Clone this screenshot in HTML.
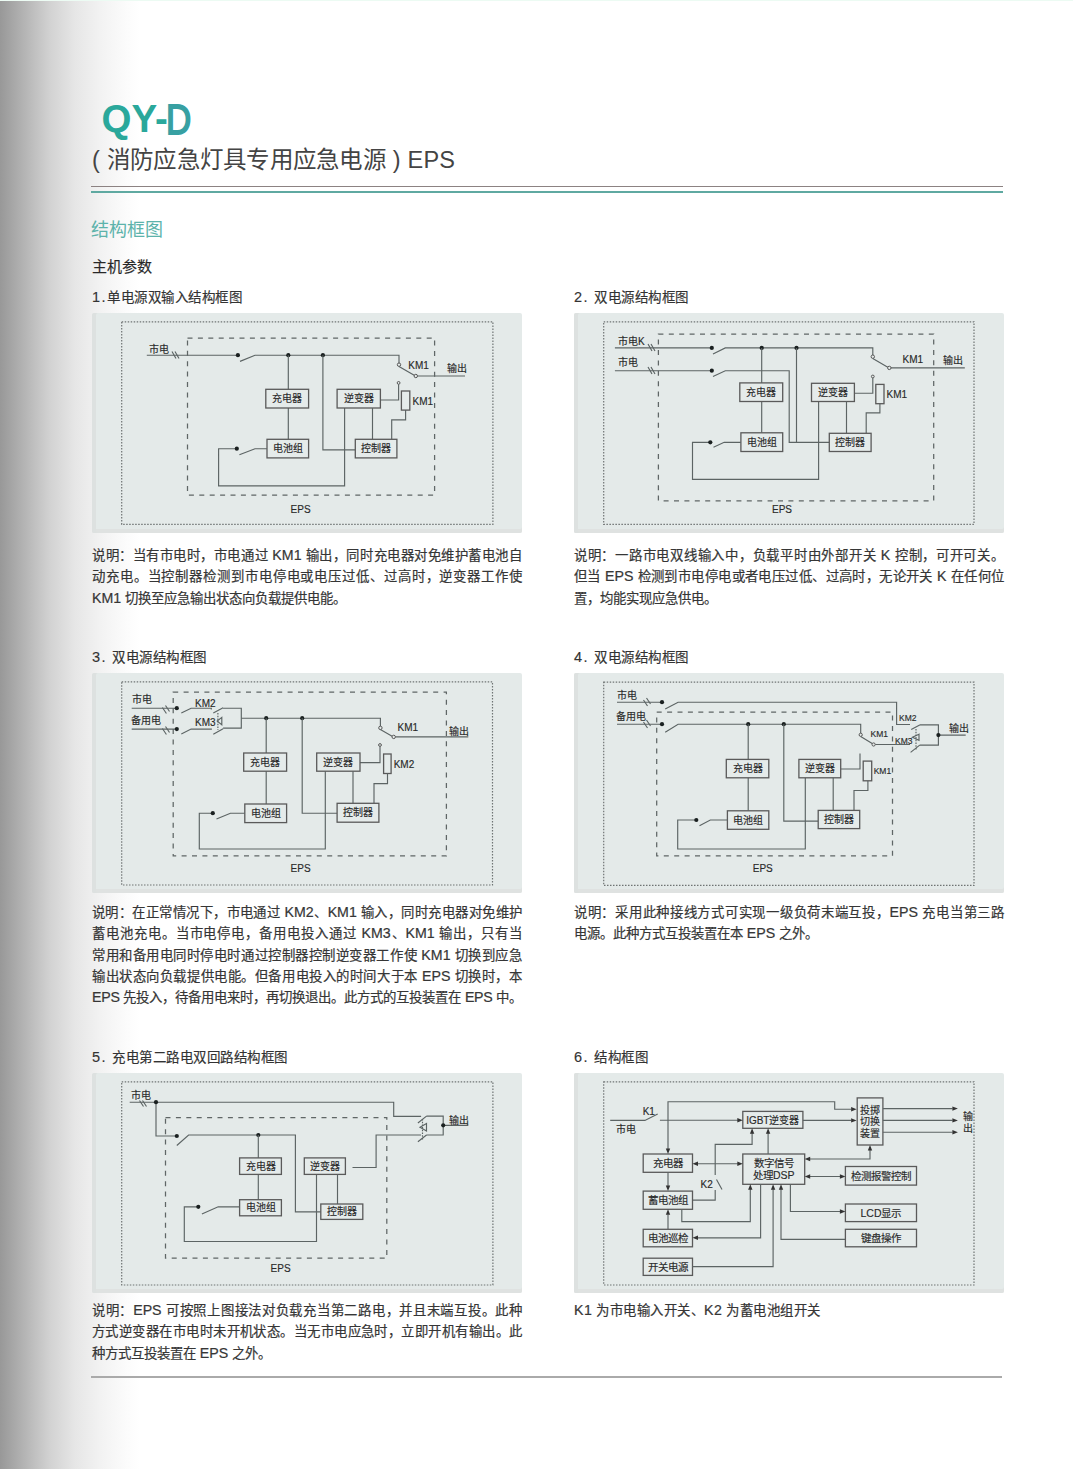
<!DOCTYPE html>
<html lang="zh-CN"><head><meta charset="utf-8">
<style>
*{margin:0;padding:0;box-sizing:border-box}
html,body{width:1073px;height:1469px;overflow:hidden;background:#fff}
body{position:relative;font-family:"Liberation Sans",sans-serif;color:#333}
#grad{position:absolute;left:0;top:0;width:140px;height:1469px;
 background:linear-gradient(to right,#989898 0px,#b5b5b5 25px,#d2d2d2 50px,#e6e6e6 75px,#f2f2f2 100px,#fbfbfb 125px,#fff 140px)}
.abs{position:absolute;white-space:nowrap}
#qy{left:101.5px;top:97px;font-size:38.5px;font-weight:bold;color:#2aa89b;letter-spacing:0px}
#qd{left:166px;top:95.5px;font-size:38px;font-weight:normal;color:#37a0a2;-webkit-text-stroke:1.6px #37a0a2;transform:scale(0.92,1.12);transform-origin:0 0}
#sub{left:92px;top:141px;font-size:23.5px;color:#444;letter-spacing:0.25px}
#l1{left:91px;top:185.5px;width:912px;height:1.5px;background:#8c8282}
#l2{left:91px;top:191px;width:912px;height:2px;background:#5fa9a1}
#h1{left:91px;top:215px;font-size:18px;color:#5db3ab}
#h2{left:92px;top:255px;font-size:15px;color:#282828;-webkit-text-stroke:0.15px #282828}
.lab{font-size:13.5px;line-height:18px;color:#333;letter-spacing:0.5px;-webkit-text-stroke:0.15px #333}
.num{font-size:14.5px;line-height:18px;letter-spacing:1.5px}
.panel{position:absolute;width:430px;height:220px;background:#e4eae9;border-radius:2px;box-shadow:inset 4px 0 0 #dde1e0,inset 0 -4px 0 #dfe2e1}
.para{position:absolute;width:430px;font-size:13.4px;line-height:21.3px;color:#363636;-webkit-text-stroke:0.2px #363636}
.ln{text-align:justify;text-align-last:justify;white-space:normal;height:21.3px;overflow:visible}
.ln.last{text-align-last:left}
.ln.full{text-align-last:justify;letter-spacing:-0.25px}
.la{font-size:14.2px}
#bl{left:91px;top:1376px;width:911px;height:2px;background:#aaaaaa}
svg{position:absolute;left:0;top:0}
</style></head><body>
<div id="grad"></div>
<div class="abs" style="left:0;top:0;width:1073px;height:1px;background:#ecfbf3"></div>
<div class="abs" id="qy">QY-</div><div class="abs" id="qd">D</div>
<div class="abs" id="sub">( 消防应急灯具专用应急电源 ) EPS</div>
<div class="abs" id="l1"></div>
<div class="abs" id="l2"></div>
<div class="abs" id="h1">结构框图</div>
<div class="abs" id="h2">主机参数</div>


<div class="abs lab num" style="left:92px;top:288px">1.</div><div class="abs lab" style="left:107px;top:289px">单电源双输入结构框图</div>
<div class="abs lab num" style="left:574px;top:288px">2.</div><div class="abs lab" style="left:594px;top:289px">双电源结构框图</div>
<div class="abs lab num" style="left:92px;top:648px">3.</div><div class="abs lab" style="left:112px;top:649px">双电源结构框图</div>
<div class="abs lab num" style="left:574px;top:648px">4.</div><div class="abs lab" style="left:594px;top:649px">双电源结构框图</div>
<div class="abs lab num" style="left:92px;top:1048px">5.</div><div class="abs lab" style="left:112px;top:1049px">充电第二路电双回路结构框图</div>
<div class="abs lab num" style="left:574px;top:1048px">6.</div><div class="abs lab" style="left:594px;top:1049px">结构框图</div>
<div class="panel" style="left:92px;top:313px"></div>
<div class="panel" style="left:574px;top:313px"></div>
<div class="panel" style="left:92px;top:673px"></div>
<div class="panel" style="left:574px;top:673px"></div>
<div class="panel" style="left:92px;top:1073px"></div>
<div class="panel" style="left:574px;top:1073px"></div>


<div class="para" style="left:92px;top:545px"><div class="ln">说明：当有市电时，市电通过 <span class="la">KM1</span> 输出，同时充电器对免维护蓄电池自</div><div class="ln">动充电。当控制器检测到市电停电或电压过低、过高时，逆变器工作使</div><div class="ln last"><span class="la">KM1</span> 切换至应急输出状态向负载提供电能。</div></div>
<div class="para" style="left:574px;top:545px"><div class="ln">说明：一路市电双线输入中，负载平时由外部开关 <span class="la">K</span> 控制，可开可关。</div><div class="ln">但当 <span class="la">EPS</span> 检测到市电停电或者电压过低、过高时，无论开关 <span class="la">K</span> 在任何位</div><div class="ln last">置，均能实现应急供电。</div></div>
<div class="para" style="left:92px;top:902px"><div class="ln">说明：在正常情况下，市电通过 <span class="la">KM2</span>、<span class="la">KM1</span> 输入，同时充电器对免维护</div><div class="ln">蓄电池充电。当市电停电，备用电投入通过 <span class="la">KM3</span>、<span class="la">KM1</span> 输出，只有当</div><div class="ln">常用和备用电同时停电时通过控制器控制逆变器工作使 <span class="la">KM1</span> 切换到应急</div><div class="ln">输出状态向负载提供电能。但备用电投入的时间大于本 <span class="la">EPS</span> 切换时，本</div><div class="ln last full"><span class="la">EPS</span> 先投入，待备用电来时，再切换退出。此方式的互投装置在 <span class="la">EPS</span> 中。</div></div>
<div class="para" style="left:574px;top:902px"><div class="ln">说明：采用此种接线方式可实现一级负荷末端互投，<span class="la">EPS</span> 充电当第三路</div><div class="ln last">电源。此种方式互投装置在本 <span class="la">EPS</span> 之外。</div></div>
<div class="para" style="left:92px;top:1300px"><div class="ln">说明：<span class="la">EPS</span> 可按照上图接法对负载充当第二路电，并且末端互投。此种</div><div class="ln">方式逆变器在市电时未开机状态。当无市电应急时，立即开机有输出。此</div><div class="ln last">种方式互投装置在 <span class="la">EPS</span> 之外。</div></div>
<div class="para" style="left:574px;top:1300px;letter-spacing:0.45px"><div class="ln last"><span class="la">K1</span> 为市电输入开关、<span class="la">K2</span> 为蓄电池组开关</div></div>
<svg width="1073" height="1469" viewBox="0 0 1073 1469">
<style>
.w{stroke:#5c6464;stroke-width:1.15;fill:none}
.bx{stroke:#5a5a5a;stroke-width:1.3;fill:#e5ebea}
.dt{fill:#1a2020}
.ou{stroke:#6f7474;stroke-width:1.2;fill:none;stroke-dasharray:1.5 1.5}
.in{stroke:#5f6666;stroke-width:1.25;fill:none;stroke-dasharray:5 5.4}
.t{font-family:"Liberation Sans",sans-serif;font-size:10px;fill:#2a2a2a;stroke:#2a2a2a;stroke-width:0.15}
.tm{text-anchor:middle}
.ar{fill:#333}
.ci{stroke:#4a4a4a;stroke-width:0.9;fill:#e5ebea}
</style>
<!-- D1 -->
<g id="d1">
<rect class="ou" x="121.7" y="321.8" width="371.2" height="202.6"/>
<rect class="in" x="187.5" y="338" width="247.1" height="157"/>
<text class="t" x="149" y="352.5">市电</text>
<path class="w" d="M146.8 355.2H237.9M240 361.4L255 355.2H399V363"/>
<path class="w" d="M172 351.5l4 7M175 351.5l4 7"/>
<circle class="dt" cx="237.9" cy="355.2" r="2.1"/>
<circle class="dt" cx="288.3" cy="355.2" r="2.1"/>
<circle class="dt" cx="322.9" cy="355.2" r="2.1"/>
<path class="w" d="M288.3 355.2V439.3M322.9 355.2V449.8H355.3"/>
<rect class="bx" x="265.8" y="389.3" width="42.8" height="18.7"/>
<text class="t tm" x="287.2" y="402.3">充电器</text>
<rect class="bx" x="267" y="439.3" width="41.6" height="18.6"/>
<text class="t tm" x="287.8" y="452.3">电池组</text>
<path class="w" d="M267 448.7H255L239.4 454.7M236.8 448.7H218.6V485.8H344.6V408"/>
<circle class="dt" cx="236.8" cy="448.7" r="2.1"/>
<circle class="ci" cx="399" cy="364.7" r="1.7"/>
<path class="w" d="M399 366.4L414.2 375.2M417.5 376H465"/>
<circle class="ci" cx="415.8" cy="376" r="1.7"/>
<text class="t" x="408.3" y="368.5">KM1</text>
<text class="t" x="446.8" y="371.5">输出</text>
<circle class="ci" cx="398.6" cy="382.9" r="1.4"/>
<path class="w" d="M398.6 384.3V400H380.4"/>
<rect class="bx" x="337.1" y="389.3" width="43.3" height="18.7"/>
<text class="t tm" x="358.8" y="402.3">逆变器</text>
<rect class="bx" x="401.4" y="391" width="8.4" height="19.1"/>
<text class="t" x="412.5" y="405">KM1</text>
<path class="w" d="M405.6 410.1V419.8H391.7V439.3M372.5 408V439.3"/>
<rect class="bx" x="355.3" y="439.3" width="41.6" height="18.6"/>
<text class="t tm" x="376.1" y="452.3">控制器</text>
<text class="t tm" x="300.6" y="512.6">EPS</text>
</g>
<!-- D2 -->
<g id="d2">
<rect class="ou" x="603.7" y="321.8" width="370.3" height="202.6"/>
<rect class="in" x="658.4" y="334" width="275.3" height="166.8"/>
<text class="t" x="618" y="344.5">市电K</text>
<text class="t" x="618" y="365.5">市电</text>
<path class="w" d="M614.9 347.9H711.8M713 354L725.3 347.9H872.8V355"/>
<path class="w" d="M614.9 370.7H711.8M713 376.5L725.3 370.7H789.2V442.3H829.3"/>
<path class="w" d="M648 344l4 7M651 344l4 7M648 367l4 7M651 367l4 7"/>
<circle class="dt" cx="711.8" cy="347.9" r="2.1"/>
<circle class="dt" cx="711.8" cy="370.7" r="2.1"/>
<circle class="dt" cx="761.7" cy="347.9" r="2.1"/>
<circle class="dt" cx="796.5" cy="347.9" r="2.1"/>
<path class="w" d="M761.7 347.9V432.8M796.5 347.9V442.3"/>
<rect class="bx" x="739.8" y="382.9" width="42.9" height="18.6"/>
<text class="t tm" x="761.2" y="395.9">充电器</text>
<rect class="bx" x="740.9" y="432.8" width="41.8" height="18.7"/>
<text class="t tm" x="761.8" y="445.8">电池组</text>
<path class="w" d="M740.9 442.3H724.2L713.5 447.2M710.3 442.3H692.5V479.3H818.6V401.5"/>
<circle class="dt" cx="710.3" cy="442.3" r="2.1"/>
<circle class="ci" cx="872.8" cy="356.7" r="1.7"/>
<path class="w" d="M872.8 358.4L887.8 367.2M891 367.9H964.8"/>
<circle class="ci" cx="889.3" cy="367.9" r="1.7"/>
<text class="t" x="902.6" y="362.5">KM1</text>
<text class="t" x="943.3" y="363.5">输出</text>
<circle class="ci" cx="872.8" cy="376.5" r="1.4"/>
<path class="w" d="M872.8 377.9V393.2H854.4"/>
<rect class="bx" x="811.5" y="383.3" width="42.9" height="18.2"/>
<text class="t tm" x="833" y="396">逆变器</text>
<rect class="bx" x="875.8" y="384.4" width="8.2" height="19.3"/>
<text class="t" x="886.5" y="398.3">KM1</text>
<path class="w" d="M879.9 403.7V412.9H866.2V433.3M846.5 401.5V433.3"/>
<rect class="bx" x="829.3" y="433.3" width="41.8" height="18.2"/>
<text class="t tm" x="850.2" y="446">控制器</text>
<text class="t tm" x="782" y="512.6">EPS</text>
</g>
<!-- D3 -->
<g id="d3">
<rect class="ou" x="121.7" y="681.8" width="370.8" height="203.2"/>
<rect class="in" x="173.2" y="692.1" width="273.2" height="163.8"/>
<text class="t" x="132.3" y="702.8">市电</text>
<text class="t" x="131.2" y="723.8">备用电</text>
<path class="w" d="M131.7 708.2H176.8M181.3 713L191.1 708.2H211.3V709.5M213.3 713L223.1 707.8M223.1 708.2H241.3V728.1H223.1M213.3 734.3L223.1 728.7M211.3 728.6V729.1H191.1L181.3 733.9M176.8 729.1H131.7"/>
<path class="w" d="M162.4 707.5l4 6M165.5 705.5l4 6M162.4 728.5l4 6M165.5 726.5l4 6"/>
<path class="w" d="M217.9 713V730" style="stroke-dasharray:1.5 1.2"/>
<path class="w" d="M221.8 717.4L217.2 721.1L221.8 724.8Z"/>
<circle class="dt" cx="176.8" cy="708.2" r="2.1"/>
<circle class="dt" cx="176.8" cy="729.1" r="2.1"/>
<text class="t" x="195" y="706.9">KM2</text>
<text class="t" x="195" y="726.1">KM3</text>
<path class="w" d="M241.3 718.2H380.4V726.2"/>
<circle class="dt" cx="266.2" cy="718.2" r="2.1"/>
<circle class="dt" cx="302.2" cy="718.2" r="2.1"/>
<path class="w" d="M266.2 718.2V804M302.2 718.2V813.2H337.1"/>
<rect class="bx" x="243.7" y="753" width="42.9" height="18.2"/>
<text class="t tm" x="265.2" y="765.8">充电器</text>
<rect class="bx" x="244.8" y="804" width="41.8" height="18.6"/>
<text class="t tm" x="265.7" y="817">电池组</text>
<path class="w" d="M244.8 813.2H230.4L216.5 819M212.8 813.2H199.3V849H325.3V771.2"/>
<circle class="dt" cx="212.8" cy="813.2" r="2.1"/>
<circle class="ci" cx="380.4" cy="727.9" r="1.7"/>
<path class="w" d="M380.4 729.6L392.1 736.2M395.4 736.9H468.3"/>
<circle class="ci" cx="393.7" cy="736.9" r="1.7"/>
<text class="t" x="397.5" y="730.7">KM1</text>
<text class="t" x="449.4" y="735">输出</text>
<circle class="ci" cx="380" cy="745" r="1.4"/>
<path class="w" d="M380 746.4V762.6H360"/>
<rect class="bx" x="316.7" y="753" width="43.3" height="18.2"/>
<text class="t tm" x="338.3" y="765.8">逆变器</text>
<rect class="bx" x="383.6" y="754" width="7.5" height="19.5"/>
<text class="t" x="393.7" y="767.5">KM2</text>
<path class="w" d="M387.5 773.5V783.6H374V803.3M353 771.2V803.3"/>
<rect class="bx" x="337.1" y="803.3" width="41.8" height="18.9"/>
<text class="t tm" x="358" y="816.3">控制器</text>
<text class="t tm" x="300.6" y="872.1">EPS</text>
</g>
<!-- D4 -->
<g id="d4">
<rect class="ou" x="603.7" y="682.2" width="370.3" height="203.2"/>
<rect class="in" x="656.7" y="712.2" width="235.8" height="143.7"/>
<text class="t" x="617" y="698.5">市电</text>
<text class="t" x="616.4" y="720">备用电</text>
<path class="w" d="M617 702.2H662M665.2 709L678.1 702.2H896.6V724.5H910"/>
<path class="w" d="M617 724.2H662M665.2 732.2L678.1 724.2H860.7V733"/>
<path class="w" d="M643.5 700l4 6M646.5 698l4 6M643.5 722l4 6M646.5 720l4 6"/>
<circle class="dt" cx="662" cy="702.2" r="2.1"/>
<circle class="dt" cx="662" cy="724.2" r="2.1"/>
<circle class="dt" cx="748.2" cy="724.2" r="2.1"/>
<circle class="dt" cx="783.8" cy="724.2" r="2.1"/>
<path class="w" d="M748.2 724.2V810.8M783.8 724.2V821.1H818.2"/>
<rect class="bx" x="726.3" y="759.4" width="42.5" height="18.4"/>
<text class="t tm" x="747.5" y="772.3">充电器</text>
<rect class="bx" x="727.4" y="810.8" width="41.4" height="18.5"/>
<text class="t tm" x="748.1" y="823.7">电池组</text>
<path class="w" d="M727.4 820H710.3L699.5 825.8M696.3 820H677.7V849H805.3V777.8"/>
<circle class="dt" cx="696.3" cy="820" r="2.1"/>
<circle class="ci" cx="860.7" cy="734.8" r="1.6"/>
<path class="w" d="M860.7 736.4L872.2 743.6M875.3 744.5H910"/>
<circle class="ci" cx="873.6" cy="744.5" r="1.6"/>
<text class="t" style="font-size:8.5px" x="870.6" y="736.8">KM1</text>
<text class="t" style="font-size:8.5px" x="899" y="720.7">KM2</text>
<text class="t" style="font-size:8.5px" x="895" y="743.5">KM3</text>
<path class="w" d="M911.2 729.4L919.7 725.1M919.7 724.9H938.4V745.1H919.7M910.6 752.4L919.7 745.1M938.4 735.1H965.7"/>
<path class="w" d="M916 729V750" style="stroke-dasharray:1.5 1.2"/>
<path class="w" d="M919 734.2L912.4 737.3L919 740.3Z"/>
<circle class="dt" cx="938.4" cy="735.1" r="2.1"/>
<text class="t" x="949.3" y="731.8">输出</text>
<path class="w" d="M860 753.6V769H840.7"/>
<rect class="bx" x="798.9" y="759.4" width="41.8" height="18.4"/>
<text class="t tm" x="819.8" y="772.3">逆变器</text>
<rect class="bx" x="863.2" y="761.1" width="8.5" height="19.7"/>
<text class="t" style="font-size:8.5px" x="873.7" y="774">KM1</text>
<path class="w" d="M867.9 780.8V790.5H854V810.4M833.2 777.8V810.4"/>
<rect class="bx" x="818.2" y="810.4" width="41.5" height="18.2"/>
<text class="t tm" x="839" y="823.2">控制器</text>
<text class="t tm" x="762.8" y="872">EPS</text>
</g>
<!-- D5 -->
<g id="d5">
<rect class="ou" x="121.7" y="1081.8" width="371.2" height="203.2"/>
<rect class="in" x="165.5" y="1117.6" width="221.3" height="140.6"/>
<text class="t" x="131.4" y="1098.5">市电</text>
<path class="w" d="M129.7 1102.2H393.7V1116.3H421.1M156 1102.2V1136H176.8M176.8 1145.5L188.6 1135H295.4V1211.9H320.8"/>
<path class="w" d="M139.5 1100.5l4 6M142.5 1100.5l4 6"/>
<circle class="dt" cx="156" cy="1102.2" r="2.1"/>
<circle class="dt" cx="176.8" cy="1136" r="2.1"/>
<circle class="dt" cx="258.3" cy="1135" r="2.1"/>
<path class="w" d="M258.3 1135V1199.7"/>
<rect class="bx" x="239.6" y="1157.9" width="41.8" height="16.5"/>
<text class="t tm" x="260.5" y="1169.8">充电器</text>
<rect class="bx" x="239.6" y="1199.7" width="41.8" height="16.1"/>
<text class="t tm" x="260.5" y="1211.4">电池组</text>
<path class="w" d="M239.6 1206.8H218.2L201.9 1214M198.3 1206.8H184.3V1241.5H316.5V1174.4"/>
<circle class="dt" cx="198.3" cy="1206.8" r="2.1"/>
<rect class="bx" x="304.3" y="1157.9" width="41.1" height="16.5"/>
<text class="t tm" x="324.8" y="1169.8">逆变器</text>
<path class="w" d="M352.5 1167.5H376.1V1135H421.1"/>
<path class="w" d="M417.9 1123L426.5 1116.1M426.5 1116.1H443.2V1135H426.5M417.9 1141.8L426.5 1135M443.2 1125.3H468.3"/>
<path class="w" d="M422.5 1119V1140" style="stroke-dasharray:1.5 1.2"/>
<path class="w" d="M426.5 1123.6L420 1127.3L426.5 1131.1Z"/>
<circle class="dt" cx="443.2" cy="1125.3" r="2.1"/>
<text class="t" x="449" y="1124">输出</text>
<path class="w" d="M337.5 1174.4V1204"/>
<rect class="bx" x="320.8" y="1204" width="42" height="15.4"/>
<text class="t tm" x="341.8" y="1215.3">控制器</text>
<text class="t tm" x="280.6" y="1272">EPS</text>
</g>
<!-- D6 -->
<g id="d6">
<rect class="ou" x="603.7" y="1081.8" width="370.3" height="203.2"/>
<path class="w" d="M610.2 1120.4H644.9L657.7 1114M659.9 1120.2H738"/>
<text class="t" x="642.7" y="1115.4">K1</text>
<text class="t" x="616" y="1133">市电</text>
<path class="w" d="M668 1149V1101.7H834.7V1109.2H851"/>
<rect class="bx" x="742.8" y="1111.4" width="60.1" height="16.9"/>
<text class="t tm" x="772.8" y="1123.6">IGBT逆变器</text>
<path class="w" d="M802.9 1120.4H851"/>
<rect class="bx" x="857.2" y="1097.9" width="25.7" height="47.1"/>
<text class="t tm" x="870" y="1113.5">投掷</text>
<text class="t tm" x="870" y="1125.2">切换</text>
<text class="t tm" x="870" y="1137">装置</text>
<path class="w" d="M882.9 1108.6H952.5M882.9 1120.4H952.5M882.9 1132.2H952.5"/>
<text class="t" x="963" y="1120">输</text>
<text class="t" x="963" y="1132">出</text>
<rect class="bx" x="742.8" y="1154" width="61.9" height="30.3"/>
<text class="t tm" x="773.7" y="1167.3" style="font-size:10.5px">数字信号</text>
<text class="t tm" x="773.7" y="1178.8" style="font-size:10.5px">处理DSP</text>
<path class="w" d="M768.1 1154V1133"/>
<path class="w" d="M692.5 1200.1H715.2V1190M722 1189.5L716.5 1179.5M715.2 1175V1144.4H752.1V1133"/>
<text class="t" x="700.6" y="1187.5">K2</text>
<rect class="bx" x="643.2" y="1154" width="49.3" height="18.3"/>
<text class="t tm" x="667.9" y="1167" style="font-size:10.5px">充电器</text>
<path class="w" d="M697 1163.7H738M668 1172.3V1186M668 1229.3V1214.5"/>
<rect class="bx" x="643.2" y="1191.1" width="49.3" height="18.2"/>
<text class="t tm" x="667.9" y="1204" style="font-size:10.5px">蓄电池组</text>
<path class="w" d="M681.8 1209.3V1221.6H750.3V1189"/>
<rect class="bx" x="643.2" y="1229.3" width="49.3" height="17.5"/>
<text class="t tm" x="667.9" y="1241.8" style="font-size:10.5px">电池巡检</text>
<path class="w" d="M760.6 1184.3V1237.8H697"/>
<rect class="bx" x="643.2" y="1258.2" width="49.3" height="17.2"/>
<text class="t tm" x="667.9" y="1270.5" style="font-size:10.5px">开关电源</text>
<path class="w" d="M692.5 1266.6H773.1V1189M781 1189V1239.3H845.4M790.4 1184.3V1211.5H840M809 1159H870V1150M809 1176.5H840"/>
<rect class="bx" x="845.4" y="1166.5" width="71.1" height="18.6"/>
<text class="t tm" x="881" y="1179.5" style="font-size:10.5px">检测报警控制</text>
<rect class="bx" x="845.4" y="1204" width="71.1" height="17.6"/>
<text class="t tm" x="881" y="1216.5" style="font-size:10.5px">LCD显示</text>
<rect class="bx" x="845.4" y="1229.3" width="71.1" height="17.5"/>
<text class="t tm" x="881" y="1241.8" style="font-size:10.5px">键盘操作</text>
<polygon class="ar" points="742.8,1120.2 737.3,1118.0 737.3,1122.4"/>
<polygon class="ar" points="856.6,1109.2 851.1,1107.0 851.1,1111.4"/>
<polygon class="ar" points="856.6,1120.4 851.1,1118.2 851.1,1122.6000000000001"/>
<polygon class="ar" points="668,1154 665.8,1148.5 670.2,1148.5"/>
<polygon class="ar" points="957.9,1108.6 952.4,1106.3999999999999 952.4,1110.8"/>
<polygon class="ar" points="957.9,1120.4 952.4,1118.2 952.4,1122.6000000000001"/>
<polygon class="ar" points="957.9,1132.2 952.4,1130.0 952.4,1134.4"/>
<polygon class="ar" points="768.1,1128.3 765.9,1133.8 770.3000000000001,1133.8"/>
<polygon class="ar" points="752.1,1128.3 749.9,1133.8 754.3000000000001,1133.8"/>
<polygon class="ar" points="692.5,1163.7 698.0,1161.5 698.0,1165.9"/>
<polygon class="ar" points="742.8,1163.7 737.3,1161.5 737.3,1165.9"/>
<polygon class="ar" points="668,1191.1 665.8,1185.6 670.2,1185.6"/>
<polygon class="ar" points="750.3,1184.3 748.0999999999999,1189.8 752.5,1189.8"/>
<polygon class="ar" points="668,1209.3 665.8,1214.8 670.2,1214.8"/>
<polygon class="ar" points="692.5,1237.8 698.0,1235.6 698.0,1240.0"/>
<polygon class="ar" points="773.1,1184.3 770.9,1189.8 775.3000000000001,1189.8"/>
<polygon class="ar" points="781,1184.3 778.8,1189.8 783.2,1189.8"/>
<polygon class="ar" points="845.4,1211.5 839.9,1209.3 839.9,1213.7"/>
<polygon class="ar" points="804.7,1159 810.2,1156.8 810.2,1161.2"/>
<polygon class="ar" points="870,1145 867.8,1150.5 872.2,1150.5"/>
<polygon class="ar" points="804.7,1176.5 810.2,1174.3 810.2,1178.7"/>
<polygon class="ar" points="845.4,1176.5 839.9,1174.3 839.9,1178.7"/>
</g>
</svg>
<div class="abs" id="bl"></div>
</body></html>
